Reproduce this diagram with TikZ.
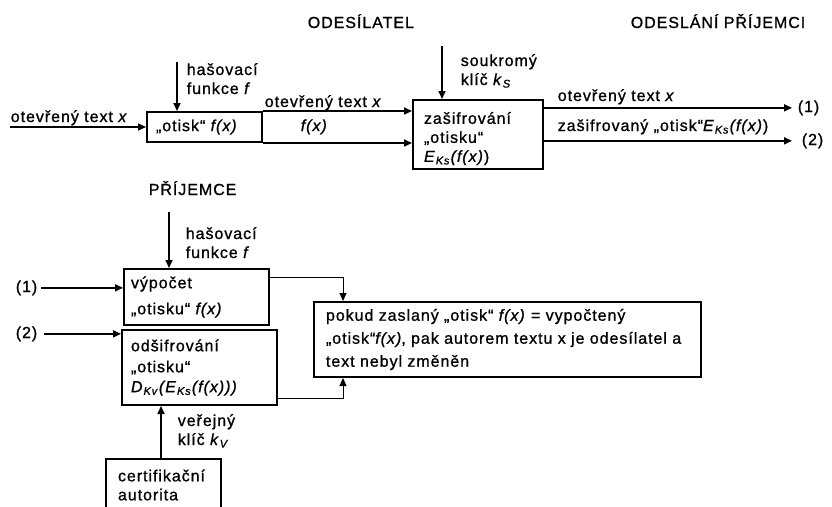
\documentclass[tikz,border=0pt]{standalone}
\usepackage{fontspec}
\setmainfont{Liberation Sans}[LetterSpace=6, FakeBold=1]
\usetikzlibrary{arrows.meta}
\hyphenpenalty=10000
\tikzstyle{every node}=[font=\fontsize{16}{19}\selectfont, inner sep=0pt]
\tikzstyle{box}=[draw, line width=2pt, anchor=north west, align=left]
\tikzstyle{lbl}=[anchor=base west, align=left]
\tikzstyle{arr}=[-{Triangle[length=8pt,width=7pt]}]
\tikzstyle{link}=[line width=1pt, -{Triangle[length=8pt,width=7pt]}]

\begin{document}
\begin{tikzpicture}[x=1pt, y=-1pt, line width=1.6pt]
\useasboundingbox (0,0) rectangle (832,506);
\clip (0,0) rectangle (832,506);
% Titles
    \node[lbl] (snd) at (307,28) {ODESÍLATEL};
    \node[lbl] (dst) at (630,28) {ODESLÁNÍ PŘÍJEMCI};
    \node[lbl] (rcv) at (148,195) {PŘÍJEMCE};
% Sender
    \node[box, text width=97pt, inner xsep=9pt, minimum height=30pt] (hash) at (146,111) {„otisk“ \textit{f(x)}};
    \node[box, text width=108pt, inner xsep=11pt, minimum height=69pt] (enc) at (412,99)
        {\rule{0pt}{20pt}zašifrování\\„otisku“\\\textit{E}\textsubscript{\textit{Ks}}\textit{(f(x)})};
    \node[lbl] (intext) at (10,122) {otevřený text \textit{x}};
    \node[lbl] (hfn) at (186,94) {hašovací\\funkce \textit{f}};
    \node[lbl] (skey) at (460,85) {soukromý\\klíč \textit{k}\textsubscript{\textit{S}}};
    \node[lbl] (plain) at (264,107) {otevřený text \textit{x}};
    \node[lbl] (fx) at (300,131) {\textit{f(x)}};
    \node[lbl] (plainout) at (557,101) {otevřený text \textit{x}};
    \node[lbl] (encout) at (557,131) {zašifrovaný „otisk“\textit{E}\textsubscript{\textit{Ks}}\textit{(f(x)})};
    \node[lbl] (out1) at (797,112) {(1)};
    \node[lbl] (out2) at (801,145) {(2)};
    \coordinate (in) at (10,127);
    \coordinate (hf) at (177,62);
    \coordinate (sk) at (442,46);
    \draw[arr] (in) -- (in -| hash.west);
    \draw[arr] (hf) -- (hf |- hash.north);
    \draw[arr] (sk) -- (sk |- enc.north);
    \draw[arr] (hash.north east) -- (hash.north east -| enc.west);
    \draw[arr] (hash.south east) -- (hash.south east -| enc.west);
    \draw[arr] (out1.west -| enc.east) -- ([xshift=-5pt]out1.west);
    \draw[arr] (out2.west -| enc.east) -- ([xshift=-9pt]out2.west);
% Receiver
    \node[box, text width=131pt, inner xsep=7pt, minimum height=56pt] (calc) at (123,268)
        {výpočet\\[7pt]„otisku“ \textit{f(x)}};
    \node[box, text width=137pt, inner xsep=9pt, minimum height=75pt] (dec) at (121,329)
        {odšifrování\\[2pt]„otisku“\\[1pt]\textit{D}\textsubscript{\textit{Kv}}\textit{(E}\textsubscript{\textit{Ks}}\textit{(f(x)))}};
    \node[box, text width=363pt, inner xsep=12pt, minimum height=75pt] (cmp) at (313,301)
        {pokud zaslaný „otisk“ \textit{f(x)} = vypočtený\\[4pt]„otisk“\textit{f(x)}, pak autorem textu x je odesílatel a\\[4pt]text nebyl změněn};
    \node[box, text width=91pt, inner xsep=12pt, minimum height=52pt] (ca) at (105,458) {certifikační\\autorita};
    \node[lbl] (hfn2) at (185,258) {hašovací\\funkce \textit{f}};
    \node[lbl] (pk) at (177,445) {veřejný\\klíč \textit{k}\textsubscript{\textit{V}}};
    \node[lbl] (in1) at (15,292) {(1)};
    \node[lbl] (in2) at (15,338) {(2)};
    \coordinate (hf2) at (169,212);
    \draw[arr] (hf2) -- (hf2 |- calc.north);
    \draw[arr] ([xshift=3pt]in1.east) -- (in1.east -| calc.west);
    \draw[arr] ([xshift=6pt]in2.east) -- (in2.east -| dec.west);
    \draw[arr] ([xshift=56pt]ca.north west) -- ([xshift=56pt]ca.north west |- dec.south);
% Comparison
    \draw[link] ([yshift=-9pt]calc.north east) -| ([xshift=30pt]cmp.north west);
    \draw[link] ([yshift=8pt]dec.south east) -| ([xshift=30pt]cmp.south west);
\end{tikzpicture}
\end{document}
